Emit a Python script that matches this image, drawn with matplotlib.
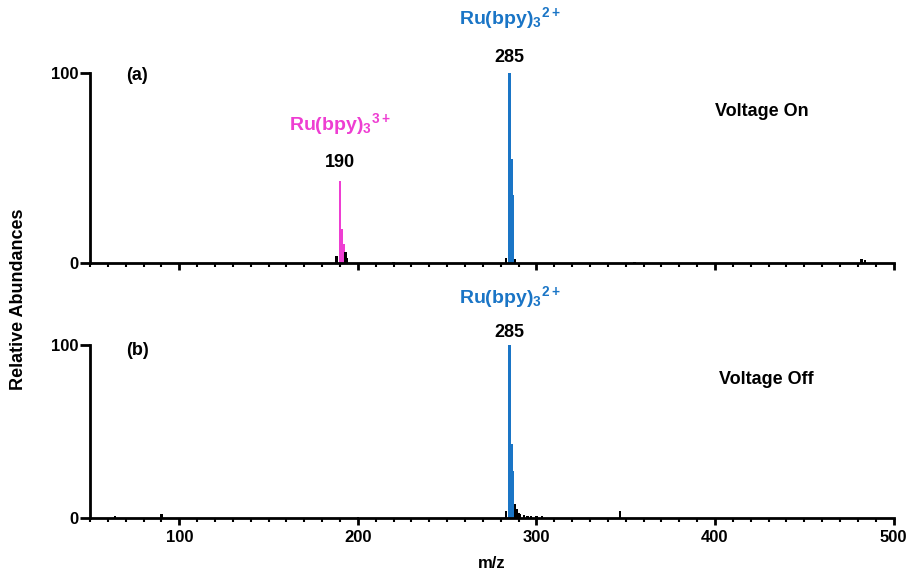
import matplotlib
matplotlib.use('Agg')
import matplotlib.pyplot as plt
from matplotlib.ticker import MultipleLocator

plt.rcParams['font.family'] = ['Liberation Sans', 'DejaVu Sans']
plt.rcParams['font.weight'] = 'bold'
plt.rcParams['mathtext.fontset'] = 'custom'
plt.rcParams['mathtext.rm'] = 'Liberation Sans:bold'
plt.rcParams['mathtext.it'] = 'Liberation Sans:bold'
plt.rcParams['mathtext.bf'] = 'Liberation Sans:bold'

# --- data ---
# panel (a): voltage on
a_mz = [190, 191, 192, 188, 193, 194, 285, 286, 287, 283, 288, 482, 484, 220, 355]
a_int = [43, 18, 10, 4, 6, 3, 100, 55, 36, 3, 2, 2, 1.5, 0.5, 0.5]
a_col = ['m', 'm', 'm', 'k', 'k', 'k', 'b', 'b', 'b', 'k', 'k', 'k', 'k', 'k', 'k']

# panel (b): voltage off
b_mz = [285, 286, 287, 283, 288, 289, 290, 291, 293, 295, 297, 300, 303, 347, 90, 64, 200]
b_int = [100, 43, 27, 4, 8, 5, 3, 2, 1.5, 1, 1, 0.8, 1, 4, 2, 1, 0.5]
b_col = ['b', 'b', 'b', 'k', 'k', 'k', 'k', 'k', 'k', 'k', 'k', 'k', 'k', 'k', 'k', 'k', 'k']

colors = {'m': '#ee3ed2', 'b': '#1a75c6', 'k': 'black'}

fig = plt.figure(figsize=(9.11, 5.76), dpi=100)
ax_a = fig.add_axes([0.0988, 0.543, 0.882, 0.330])
ax_b = fig.add_axes([0.0988, 0.101, 0.882, 0.300])


def draw_panel(ax, mz, inten, cols, show_labels):
    ax.bar(mz, inten, width=1.3, color=[colors[c] for c in cols], linewidth=0)
    ax.set_xlim(50, 500)
    ax.set_ylim(0, 100)
    ax.spines['top'].set_visible(False)
    ax.spines['right'].set_visible(False)
    ax.spines['left'].set_linewidth(2)
    ax.spines['bottom'].set_linewidth(2)
    ax.set_yticks([0, 100])
    ax.set_yticklabels(['0', '100'])
    ax.xaxis.set_major_locator(MultipleLocator(100))
    ax.xaxis.set_minor_locator(MultipleLocator(10))
    ax.tick_params(axis='y', length=7, width=2, pad=1, labelsize=12)
    ax.tick_params(axis='x', which='major', length=5, width=2, labelsize=12)
    ax.tick_params(axis='x', which='minor', length=3, width=1.5)
    if not show_labels:
        ax.tick_params(axis='x', labelbottom=False)


draw_panel(ax_a, a_mz, a_int, a_col, False)
draw_panel(ax_b, b_mz, b_int, b_col, True)

# annotations panel (a)
ax_a.text(285, 129, r'Ru(bpy)$_3$$^{2+}$', color=colors['b'], fontsize=14,
          ha='center', va='center', clip_on=False)
ax_a.text(285, 108, '285', fontsize=13, ha='center', va='center', clip_on=False)
ax_a.text(190, 73, r'Ru(bpy)$_3$$^{3+}$', color=colors['m'], fontsize=14,
          ha='center', va='center')
ax_a.text(190, 53, '190', fontsize=13, ha='center', va='center')
ax_a.text(70, 99, '(a)', fontsize=13, ha='left', va='center', clip_on=False)
ax_a.text(400, 80, 'Voltage On', fontsize=13, ha='left', va='center')

# annotations panel (b)
ax_b.text(285, 128, r'Ru(bpy)$_3$$^{2+}$', color=colors['b'], fontsize=14,
          ha='center', va='center', clip_on=False)
ax_b.text(285, 107, '285', fontsize=13, ha='center', va='center', clip_on=False)
ax_b.text(70, 97, '(b)', fontsize=13, ha='left', va='center')
ax_b.text(402, 80, 'Voltage Off', fontsize=13, ha='left', va='center')

ax_b.set_xlabel('m/z', fontsize=12, fontweight='bold', labelpad=8)
fig.text(0.02, 0.48, 'Relative Abundances', rotation=90, fontsize=13,
         fontweight='bold', ha='center', va='center')

fig.savefig('out.png', dpi=100)
